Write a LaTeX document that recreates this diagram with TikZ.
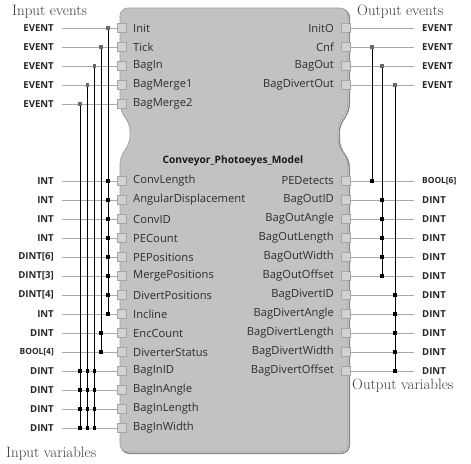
\documentclass[tikz,border=0pt]{standalone}
\usepackage{fontspec}
\newfontfamily\ui{Open Sans}
\definecolor{blockfill}{RGB}{194,194,194}
\definecolor{blockdraw}{RGB}{160,160,160}
\definecolor{shadowgray}{RGB}{135,135,135}
\definecolor{portfill}{RGB}{210,210,210}
\definecolor{portdraw}{RGB}{165,165,165}
\definecolor{linegray}{RGB}{170,170,170}
\definecolor{dotgray}{RGB}{105,105,105}
\definecolor{txt}{RGB}{45,45,45}
\definecolor{captxt}{RGB}{60,60,60}
\begin{document}
\begin{tikzpicture}[x=1pt,y=-1pt,
  port/.style={draw=portdraw, fill=portfill, minimum size=9pt, inner sep=0pt, line width=0.6pt},
  plabel/.style={font=\ui\fontsize{11.2}{13}\selectfont, text=txt, inner sep=0pt},
  tlabel/.style={font=\ui\bfseries\fontsize{9.6}{12}\selectfont, text=black!85, inner sep=0pt},
  slabel/.style={font=\ui\bfseries\fontsize{8.4}{11}\selectfont, text=black!85, inner sep=0pt},
  hline/.style={draw=linegray, line width=0.7pt},
  vline/.style={draw=black, line width=0.9pt},
  edot/.style={fill=dotgray, minimum size=3.5pt, inner sep=0pt},
  vdot/.style={fill=black, minimum size=3.6pt, inner sep=0pt},
  capt/.style={font=\fontsize{15}{17}\selectfont, inner sep=0pt, text=captxt}
]
\useasboundingbox (0,0) rectangle (471,463);
% block shadow and body
\path[draw=shadowgray, line width=1.4pt, rounded corners=8pt, shift={(1.3,1.3)}]
  (234,8) -- (348,8) -- (348,111) -- (338,123) -- (338,147) -- (348,158) -- (348,452)
  -- (120,452) -- (120,156) -- (130,144) -- (130,123) -- (120,111) -- (120,8) -- cycle;
\path[draw=blockdraw, fill=blockfill, line width=0.7pt, rounded corners=8pt]
  (234,8) -- (348,8) -- (348,111) -- (338,123) -- (338,147) -- (348,158) -- (348,452)
  -- (120,452) -- (120,156) -- (130,144) -- (130,123) -- (120,111) -- (120,8) -- cycle;
\node[font=\ui\bfseries\fontsize{10.2}{12}\selectfont, text=black!90] (title) at (233,161) {Conveyor\_Photoeyes\_Model};
% captions
\node[capt, anchor=base west] (cie) at (12,16) {Input events};
\node[capt, anchor=base west] (coe) at (357,16) {Output events};
\node[capt, anchor=base west] (civ) at (6,457) {Input variables};
\node[capt, anchor=base west] (cov) at (352,389) {Output variables};
% left ports
\foreach \n/\y/\t/\s in {Init/28/EVENT/tlabel, Tick/47/EVENT/tlabel, BagIn/66/EVENT/tlabel,
  BagMerge1/85/EVENT/tlabel, BagMerge2/104/EVENT/tlabel,
  ConvLength/181/INT/tlabel, AngularDisplacement/200/INT/tlabel, ConvID/219/INT/tlabel,
  PECount/238/INT/tlabel, PEPositions/257/DINT[6]/tlabel, MergePositions/276/DINT[3]/tlabel,
  DivertPositions/295/DINT[4]/tlabel, Incline/314/INT/tlabel, EncCount/333/DINT/tlabel,
  DiverterStatus/352/BOOL[4]/slabel, BagInID/371/DINT/tlabel, BagInAngle/390/DINT/tlabel,
  BagInLength/409/DINT/tlabel, BagInWidth/428/DINT/tlabel}{
  \node[port] (P\n) at (121.5,\y) {};
  \node[plabel, anchor=west] (L\n) at (133,\y) {\n};
  \node[\s, anchor=east] (T\n) at (54,\y) {\t};
  \draw[hline] ([xshift=8pt]T\n.east) -- (P\n.west);
}
% right ports
\foreach \n/\y/\t/\s in {InitO/28/EVENT/tlabel, Cnf/47/EVENT/tlabel, BagOut/66/EVENT/tlabel,
  BagDivertOut/85/EVENT/tlabel,
  PEDetects/181/BOOL[6]/slabel, BagOutID/200/DINT/tlabel, BagOutAngle/219/DINT/tlabel,
  BagOutLength/238/DINT/tlabel, BagOutWidth/257/DINT/tlabel, BagOutOffset/276/DINT/tlabel,
  BagDivertID/295/DINT/tlabel, BagDivertAngle/314/DINT/tlabel, BagDivertLength/333/DINT/tlabel,
  BagDivertWidth/352/DINT/tlabel, BagDivertOffset/371/DINT/tlabel}{
  \node[port] (P\n) at (346,\y) {};
  \node[plabel, anchor=east] (L\n) at (334,\y) {\n};
  \node[\s, anchor=west] (T\n) at (422,\y) {\t};
  \draw[hline] (P\n.east) -- ([xshift=-8pt]T\n.west);
}
% junction coordinates (left)
\foreach \n/\x in {Init/108, Tick/101, BagIn/94.5, BagMerge1/87.5, BagMerge2/80}{
  \coordinate (J\n) at (\x,0 |- P\n);
}
\coordinate (JIncline) at (108,314);
\coordinate (JDiverterStatus) at (101,352);
\foreach \x/\k in {94.5/a, 87.5/b, 80/c}{
  \coordinate (JBagInWidth\k) at (\x,428);
}
% junction coordinates (right)
\coordinate (JCnf) at (372,47);
\coordinate (JBagOut) at (382,66);
\coordinate (JBagDivertOut) at (395,85);
\coordinate (JPEDetects) at (372,181);
\coordinate (JBagOutOffset) at (382,276);
\coordinate (JBagDivertOffset) at (395,371);
% vertical connectors
\draw[vline] (JInit) -- (JIncline);
\draw[vline] (JTick) -- (JDiverterStatus);
\draw[vline] (JBagIn) -- (JBagInWidtha);
\draw[vline] (JBagMerge1) -- (JBagInWidthb);
\draw[vline] (JBagMerge2) -- (JBagInWidthc);
\draw[vline] (JCnf) -- (JPEDetects);
\draw[vline] (JBagOut) -- (JBagOutOffset);
\draw[vline] (JBagDivertOut) -- (JBagDivertOffset);
% event dots
\foreach \n in {Init, Tick, BagIn, BagMerge1, BagMerge2, Cnf, BagOut, BagDivertOut}{
  \node[edot] (D\n) at (J\n) {};
}
% variable dots
\foreach \y in {181,200,219,238,257,276,295,314}{ \node[vdot] (dA\y) at (108,\y) {}; }
\foreach \y in {333,352}{ \node[vdot] (dB\y) at (101,\y) {}; }
\foreach \y in {371,390,409,428}{
  \node[vdot] (dC\y) at (94.5,\y) {};
  \node[vdot] (dD\y) at (87.5,\y) {};
  \node[vdot] (dE\y) at (80,\y) {};
}
\node[vdot] (dF181) at (372,181) {};
\foreach \y in {200,219,238,257,276}{ \node[vdot] (dG\y) at (382,\y) {}; }
\foreach \y in {295,314,333,352,371}{ \node[vdot] (dH\y) at (395,\y) {}; }
\end{tikzpicture}
\end{document}
